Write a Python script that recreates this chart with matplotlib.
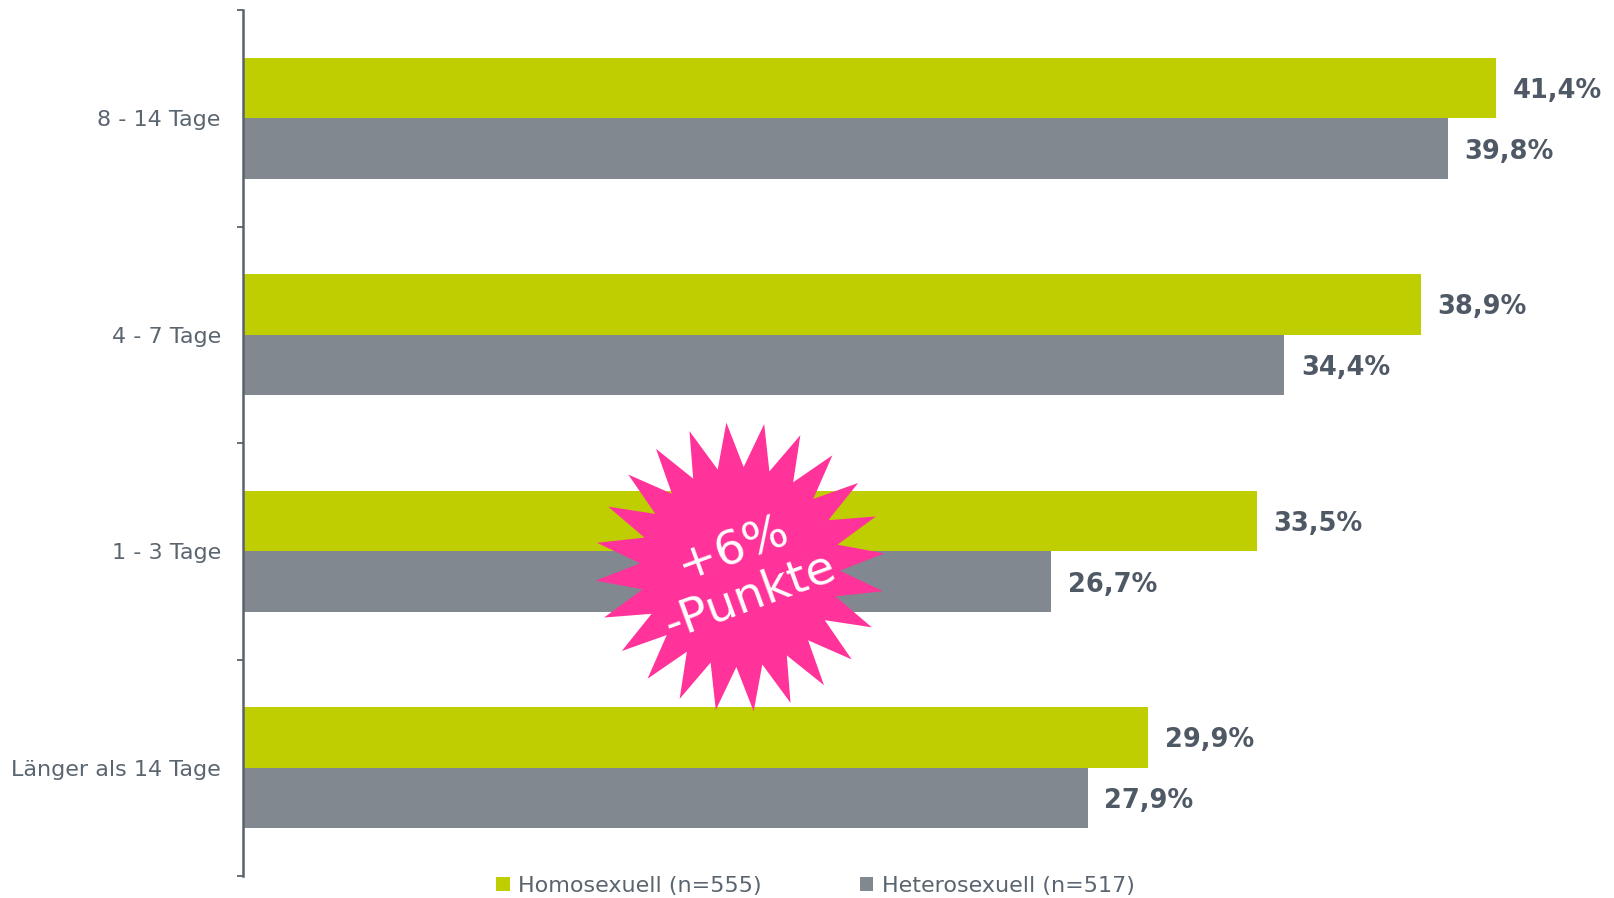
import matplotlib
matplotlib.use("Agg")
import matplotlib.pyplot as plt
import numpy as np
from matplotlib.patches import Polygon, Patch

categories = ["8 - 14 Tage", "4 - 7 Tage", "1 - 3 Tage", "Länger als 14 Tage"]
homo = [41.4, 38.9, 33.5, 29.9]
hetero = [39.8, 34.4, 26.7, 27.9]
series_names = ["Homosexuell (n=555)", "Heterosexuell (n=517)"]
badge_text = "+6%\n-Punkte"

GREEN = "#BFCE00"
GREY = "#818890"
AXC = "#58626E"
TXT = "#5B6570"
VALC = "#4F5966"
PINK = "#FF3399"

W, H = 1615, 898
fig = plt.figure(figsize=(W / 100, H / 100), dpi=100)
ax = fig.add_axes([243 / W, 22 / H, (1600 - 243) / W, (876 - 10) / H])

y = np.arange(len(categories))
bh = 0.28
ax.barh(y - bh / 2, homo, height=bh, color=GREEN, zorder=2)
ax.barh(y + bh / 2, hetero, height=bh, color=GREY, zorder=2)

for yi, v in zip(y, homo):
    ax.text(v + 0.55, yi - bh / 2, f"{v:.1f}%".replace(".", ","), va="center_baseline", ha="left",
            fontsize=18.5, fontweight="bold", color=VALC)
for yi, v in zip(y, hetero):
    ax.text(v + 0.55, yi + bh / 2, f"{v:.1f}%".replace(".", ","), va="center_baseline", ha="left",
            fontsize=18.5, fontweight="bold", color=VALC)

ax.set_xlim(0, 1357 / 30.27)
ax.set_ylim(len(categories) - 0.5, -0.5)

for s in ["top", "right", "bottom"]:
    ax.spines[s].set_visible(False)
ax.spines["left"].set_color(AXC)
ax.spines["left"].set_linewidth(1.8)
ax.spines["left"].set_zorder(3)
ax.set_xticks([])
ax.set_yticks(y)
ax.set_yticklabels(categories, fontsize=16, color=TXT, va="center_baseline")
ax.tick_params(axis="y", which="major", length=0, pad=16)
ax.set_yticks(np.arange(-0.5, len(categories) + 0.5, 1.0), minor=True)
ax.tick_params(axis="y", which="minor", length=4.5, width=1.3, color=AXC)

# starburst badge (pixel-based, circular)
cx, cy = 740 / 100, (H - 567) / 100
r_out, r_in = 1.45, 1.0
npts = 24
ang0 = np.deg2rad(95.4)
verts = []
for k in range(npts):
    a = ang0 - 2 * np.pi * k / npts
    verts.append((cx + r_out * np.cos(a), cy + r_out * np.sin(a)))
    a2 = a - np.pi / npts
    verts.append((cx + r_in * np.cos(a2), cy + r_in * np.sin(a2)))
star = Polygon(verts, closed=True, facecolor=PINK, edgecolor="none",
               transform=fig.dpi_scale_trans, zorder=5)
fig.patches.append(star)
fig.text(7.42 / (W / 100), (H - 573) / H, badge_text, transform=fig.transFigure,
         ha="center", va="center", multialignment="center", rotation=20,
         rotation_mode="anchor", fontsize=34, color="white", linespacing=1.15, zorder=6)

handles = [Patch(facecolor=GREEN, edgecolor="none"), Patch(facecolor=GREY, edgecolor="none")]
leg = fig.legend(handles, series_names, loc="center", bbox_to_anchor=(0.505, 12 / H),
                 ncol=2, frameon=False, fontsize=16, handlelength=0.6, handleheight=0.6,
                 handletextpad=0.4, columnspacing=4.4, borderaxespad=0, borderpad=0)
for t in leg.get_texts():
    t.set_color(TXT)

fig.savefig("out.png", dpi=100, facecolor="white")
